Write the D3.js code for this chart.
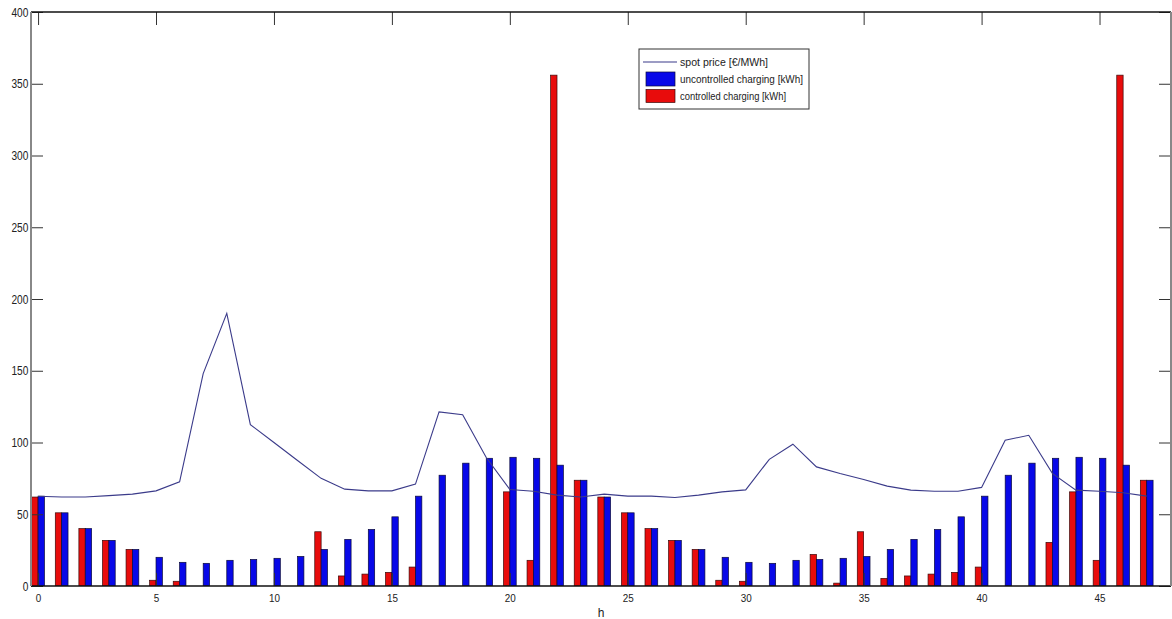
<!DOCTYPE html>
<html>
<head>
<meta charset="utf-8">
<script src="https://cdn.jsdelivr.net/npm/d3@7"></script>
<style>
  html, body { margin: 0; padding: 0; background: #ffffff; }
  svg { display: block; }
  text { font-family: "Liberation Sans", Arial, sans-serif; fill: #222; }
</style>
</head>
<body>
<svg id="chart" width="1172" height="619"></svg>
<script>
// ---- data ----
const hours = [0,1,2,3,4,5,6,7,8,9,10,11,12,13,14,15,16,17,18,19,20,21,22,23,
               24,25,26,27,28,29,30,31,32,33,34,35,36,37,38,39,40,41,42,43,44,45,46,47];
const spotPrice = [62.5,62,62,63,64,66.3,72.6,148,190,112.5,100,87.5,75,67.5,66.3,66.3,71,121.3,119.4,89.5,
                   67.2,66,63.3,62,64,62.6,62.6,61.7,63.3,65.6,67,88.3,98.8,83,78.4,74.2,69.6,66.8,66,66,
                   68.7,101.6,105,78.5,66.8,66,65,62.6];
const uncontrolled = [62.6,51,40,31.8,25.5,20,16.5,15.8,17.9,18.5,19.3,20.6,25.5,32.5,39.4,48.2,62.6,77.2,85.6,89,
                      89.7,89,84.2,73.7,62,51,40,31.8,25.5,20,16.5,15.8,17.9,18.5,19.3,20.6,25.5,32.5,39.4,48.2,
                      62.6,77.2,85.6,89,89.7,89,84.2,73.7];
const controlled = [62,51,40,31.8,25.5,4,3.3,0,0,0,0,0,37.8,7,8.3,9.5,13.2,0,0,0,
                    65.6,17.9,356,73.7,62,51,40,31.8,25.5,4,3.3,0,0,22,2,37.8,5.3,7,8.3,9.5,
                    13.2,0,0,30.4,65.6,17.9,356,73.7];
const xTicks = [0,5,10,15,20,25,30,35,40,45];
const yTicks = [0,50,100,150,200,250,300,350,400];
const legendLabels = ["spot price [€/MWh]", "uncontrolled charging [kWh]", "controlled charging [kWh]"];
const xLabel = "h";

// ---- layout ----
const svg = d3.select("#chart");
const L = 31, R = 1171, T = 12, B = 586;
const x = d3.scaleLinear().domain([-0.3, 48.03]).range([L, R]);
const y = d3.scaleLinear().domain([0, 400]).range([B, T]);
const bw = 0.27;
const blueC = "#0808e8", redC = "#e80c0c", lineC = "#3b3b8a";

svg.append("defs").append("clipPath").attr("id", "clip")
  .append("rect").attr("x", L).attr("y", T).attr("width", R - L).attr("height", B - T);

const plot = svg.append("g").attr("clip-path", "url(#clip)");

// controlled (red, left of hour)
plot.selectAll("rect.ctrl").data(hours.filter((h, i) => controlled[i] > 0)).join("rect")
  .attr("class", "ctrl")
  .attr("x", h => x(h - bw))
  .attr("width", h => x(h) - x(h - bw))
  .attr("y", h => y(controlled[h]))
  .attr("height", h => y(0) - y(controlled[h]))
  .attr("fill", redC).attr("stroke", "#3a0a0a").attr("stroke-width", 0.7);

// uncontrolled (blue, right of hour)
plot.selectAll("rect.unc").data(hours).join("rect")
  .attr("class", "unc")
  .attr("x", h => x(h))
  .attr("width", h => x(h + bw) - x(h))
  .attr("y", h => y(uncontrolled[h]))
  .attr("height", h => y(0) - y(uncontrolled[h]))
  .attr("fill", blueC).attr("stroke", "#0a0a3a").attr("stroke-width", 0.7);

// spot price line
plot.append("path")
  .datum(hours)
  .attr("fill", "none").attr("stroke", lineC).attr("stroke-width", 1.1)
  .attr("d", d3.line().x(h => x(h)).y(h => y(spotPrice[h])));

// ---- axes (inward ticks, MATLAB style) ----
const fmt = d3.format("d");
const axB = svg.append("g").attr("transform", `translate(0,${B})`)
  .call(d3.axisBottom(x).tickValues(xTicks).tickFormat(fmt).tickSize(-13).tickPadding(8));
const axT = svg.append("g").attr("transform", `translate(0,${T})`)
  .call(d3.axisTop(x).tickValues(xTicks).tickFormat("").tickSize(-13));
const axL = svg.append("g").attr("transform", `translate(${L},0)`)
  .call(d3.axisLeft(y).tickValues(yTicks).tickFormat(fmt).tickSize(-12).tickPadding(3.5));
const axR = svg.append("g").attr("transform", `translate(${R},0)`)
  .call(d3.axisRight(y).tickValues(yTicks).tickFormat("").tickSize(-12));

[axB, axT, axL, axR].forEach(a => {
  a.select(".domain").remove();
  a.selectAll(".tick line").attr("stroke", "#333").attr("stroke-width", 1);
  a.selectAll("text").attr("fill", "#222")
    .attr("font-family", "Liberation Sans, Arial, sans-serif");
});
axL.selectAll(".tick text").attr("font-size", 13).attr("transform", "scale(0.78,1)");
axB.selectAll(".tick text").attr("font-size", 11.5).attr("transform", "scale(0.86,1)");

// frame
svg.append("line").attr("x1", L).attr("x2", R).attr("y1", T).attr("y2", T).attr("stroke", "#111").attr("stroke-width", 1.3);
svg.append("line").attr("x1", L).attr("x2", R).attr("y1", B).attr("y2", B).attr("stroke", "#111").attr("stroke-width", 1.3);
svg.append("line").attr("x1", L).attr("x2", L).attr("y1", T).attr("y2", B).attr("stroke", "#888").attr("stroke-width", 2);
svg.append("line").attr("x1", R).attr("x2", R).attr("y1", T).attr("y2", B).attr("stroke", "#888").attr("stroke-width", 2);

// x label
svg.append("text").attr("x", (L + R) / 2).attr("y", 617).attr("text-anchor", "middle")
  .attr("font-size", 12).attr("fill", "#222").text(xLabel);

// ---- legend ----
const lg = svg.append("g").attr("transform", "translate(639,49)");
lg.append("rect").attr("x", 0).attr("y", 0).attr("width", 170).attr("height", 60)
  .attr("fill", "#fff").attr("stroke", "#333").attr("stroke-width", 1);
const rows = [13, 30, 47];
lg.append("line").attr("x1", 4).attr("x2", 38).attr("y1", rows[0]).attr("y2", rows[0])
  .attr("stroke", lineC).attr("stroke-width", 1.1);
lg.append("rect").attr("x", 7).attr("y", rows[1] - 7).attr("width", 29).attr("height", 14)
  .attr("fill", blueC).attr("stroke", "#0a0a3a").attr("stroke-width", 0.7);
lg.append("rect").attr("x", 7).attr("y", rows[2] - 6.5).attr("width", 29).attr("height", 13)
  .attr("fill", redC).attr("stroke", "#3a0a0a").attr("stroke-width", 0.7);
lg.selectAll("text.lt").data(legendLabels).join("text")
  .attr("class", "lt")
  .attr("x", 41).attr("y", (d, i) => rows[i] + 4)
  .attr("font-size", 10.5)
  .attr("textLength", (d, i) => [88, 123, 106][i])
  .attr("lengthAdjust", "spacingAndGlyphs")
  .text(d => d);
</script>
</body>
</html>
